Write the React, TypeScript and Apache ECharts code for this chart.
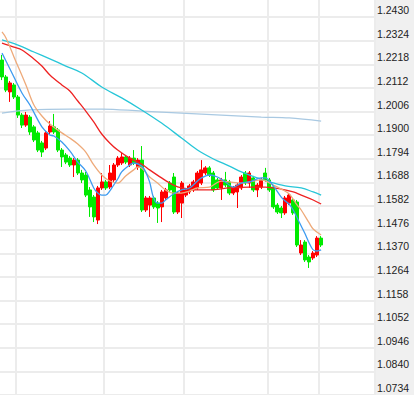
import { useEffect, useRef } from 'react';
import * as echarts from 'echarts';

// ---------- data ----------
const categoryCount = 94; // daily slots across the plot (data fills the first 81)
const categories: string[] = Array.from({ length: categoryCount }, (_, i) => String(i));
const monthSeparators = [4, 26, 46, 67, 80];

const yTickLabels = [
  '1.0734', '1.0840', '1.0946', '1.1052', '1.1158', '1.1264', '1.1370', '1.1476', '1.1582',
  '1.1688', '1.1794', '1.1900', '1.2006', '1.2112', '1.2218', '1.2324', '1.2430',
];
const priceMin = 1.0734;
const priceMax = 1.2430;

const opens = [
  1.2237, 1.2161, 1.2094, 1.2125, 1.2071, 1.1990, 1.1945, 1.1981, 1.1937, 1.1910,
  1.1865, 1.1842, 1.1914, 1.1937, 1.1923, 1.1833, 1.1811, 1.1797, 1.1766, 1.1788,
  1.1730, 1.1721, 1.1654, 1.1622, 1.1519, 1.1663, 1.1690, 1.1667, 1.1699, 1.1766,
  1.1775, 1.1802, 1.1766, 1.1797, 1.1757, 1.1788, 1.1564, 1.1586, 1.1618, 1.1595,
  1.1578, 1.1618, 1.1685, 1.1712, 1.1555, 1.1595, 1.1631, 1.1645, 1.1654, 1.1663,
  1.1685, 1.1730, 1.1753, 1.1730, 1.1699, 1.1663, 1.1699, 1.1690, 1.1640, 1.1645,
  1.1663, 1.1730, 1.1685, 1.1708, 1.1654, 1.1667, 1.1730, 1.1699, 1.1667, 1.1586,
  1.1573, 1.1551, 1.1595, 1.1609, 1.1600, 1.1371, 1.1420, 1.1353, 1.1349, 1.1362,
  1.1438,
];
const closes = [
  1.2161, 1.2102, 1.2134, 1.2071, 1.1990, 1.1945, 1.1990, 1.1914, 1.1878, 1.1833,
  1.1824, 1.1910, 1.1941, 1.1914, 1.1833, 1.1802, 1.1779, 1.1766, 1.1788, 1.1730,
  1.1699, 1.1631, 1.1578, 1.1533, 1.1663, 1.1690, 1.1663, 1.1730, 1.1766, 1.1797,
  1.1802, 1.1779, 1.1797, 1.1775, 1.1788, 1.1564, 1.1618, 1.1618, 1.1578, 1.1573,
  1.1645, 1.1654, 1.1654, 1.1555, 1.1640, 1.1685, 1.1654, 1.1672, 1.1690, 1.1730,
  1.1744, 1.1753, 1.1721, 1.1654, 1.1663, 1.1699, 1.1676, 1.1640, 1.1663, 1.1676,
  1.1712, 1.1685, 1.1730, 1.1654, 1.1676, 1.1699, 1.1699, 1.1654, 1.1578, 1.1555,
  1.1551, 1.1618, 1.1631, 1.1551, 1.1407, 1.1407, 1.1340, 1.1331, 1.1371, 1.1438,
  1.1407,
];
const lows = [
  1.2147, 1.2093, 1.2049, 1.2062, 1.1977, 1.1932, 1.1937, 1.1901, 1.1869, 1.1824,
  1.1802, 1.1833, 1.1905, 1.1905, 1.1824, 1.1757, 1.1770, 1.1757, 1.1712, 1.1721,
  1.1685, 1.1622, 1.1533, 1.1510, 1.1501, 1.1654, 1.1654, 1.1658, 1.1690, 1.1757,
  1.1766, 1.1770, 1.1757, 1.1766, 1.1744, 1.1555, 1.1555, 1.1533, 1.1569, 1.1506,
  1.1510, 1.1609, 1.1645, 1.1546, 1.1546, 1.1528, 1.1622, 1.1636, 1.1645, 1.1654,
  1.1676, 1.1721, 1.1712, 1.1645, 1.1654, 1.1609, 1.1667, 1.1631, 1.1631, 1.1573,
  1.1654, 1.1676, 1.1663, 1.1645, 1.1622, 1.1658, 1.1690, 1.1645, 1.1569, 1.1546,
  1.1528, 1.1542, 1.1586, 1.1542, 1.1398, 1.1362, 1.1331, 1.1304, 1.1340, 1.1353,
  1.1398,
];
const highs = [
  1.2260, 1.2170, 1.2143, 1.2134, 1.2080, 1.1999, 1.2004, 1.1990, 1.1945, 1.1919,
  1.1874, 1.1919, 1.1963, 1.1995, 1.1932, 1.1842, 1.1820, 1.1806, 1.1797, 1.1797,
  1.1744, 1.1735, 1.1667, 1.1631, 1.1672, 1.1730, 1.1699, 1.1766, 1.1775, 1.1806,
  1.1820, 1.1811, 1.1806, 1.1833, 1.1797, 1.1851, 1.1627, 1.1627, 1.1627, 1.1604,
  1.1654, 1.1663, 1.1694, 1.1730, 1.1649, 1.1694, 1.1663, 1.1681, 1.1699, 1.1739,
  1.1788, 1.1761, 1.1761, 1.1739, 1.1708, 1.1708, 1.1735, 1.1699, 1.1672, 1.1685,
  1.1721, 1.1739, 1.1739, 1.1717, 1.1685, 1.1708, 1.1753, 1.1708, 1.1676, 1.1595,
  1.1582, 1.1627, 1.1640, 1.1618, 1.1609, 1.1429, 1.1429, 1.1362, 1.1380, 1.1447,
  1.1447,
];

// moving-average lines as [day index, price]
const ma5: [number, number][] = [
  [0, 1.2268], [2, 1.2197], [5, 1.2089], [7, 1.2035], [10, 1.1937], [12, 1.1901], [13, 1.1896],
  [15, 1.1869], [17, 1.1829], [19, 1.1779], [21, 1.1739], [23, 1.1663], [24, 1.1640], [25, 1.1631],
  [26, 1.1631], [27, 1.1649], [28, 1.1676], [29, 1.1703], [30, 1.1735], [32, 1.1766], [33, 1.1775],
  [35, 1.1761], [36, 1.1735], [37, 1.1690], [38, 1.1618], [39, 1.1595], [40, 1.1595], [41, 1.1609],
  [43, 1.1636], [45, 1.1654], [47, 1.1663], [49, 1.1694], [50, 1.1708], [52, 1.1721], [54, 1.1712],
  [56, 1.1690], [58, 1.1667], [60, 1.1685], [62, 1.1690], [65, 1.1708], [66, 1.1708], [68, 1.1672],
  [70, 1.1622], [71, 1.1604], [72, 1.1590], [73, 1.1564], [74, 1.1528], [75, 1.1492], [76, 1.1456],
  [77, 1.1416], [78, 1.1385], [79, 1.1380], [80, 1.1385],
];
const ma10: [number, number][] = [
  [0, 1.2363], [1, 1.2336], [3, 1.2251], [6, 1.2125], [8, 1.2035], [10, 1.1986], [12, 1.1950],
  [15, 1.1910], [17, 1.1887], [19, 1.1860], [21, 1.1824], [23, 1.1766], [25, 1.1721], [27, 1.1694],
  [29, 1.1685], [31, 1.1717], [33, 1.1744], [34, 1.1757], [35, 1.1753], [37, 1.1712], [39, 1.1685],
  [41, 1.1654], [43, 1.1640], [45, 1.1640], [47, 1.1649], [49, 1.1663], [52, 1.1667], [55, 1.1694],
  [57, 1.1690], [60, 1.1685], [62, 1.1690], [65, 1.1699], [68, 1.1676], [70, 1.1658], [72, 1.1636],
  [74, 1.1586], [75, 1.1564], [77, 1.1506], [78, 1.1479], [80, 1.1452],
];
const ma20: [number, number][] = [
  [0, 1.2313], [3, 1.2295], [5, 1.2282], [8, 1.2242], [10, 1.2210], [12, 1.2170], [15, 1.2125],
  [17, 1.2098], [19, 1.2053], [21, 1.2008], [23, 1.1959], [25, 1.1905], [27, 1.1865], [29, 1.1833],
  [32, 1.1797], [35, 1.1770], [37, 1.1744], [40, 1.1708], [43, 1.1676], [45, 1.1663], [49, 1.1654],
  [52, 1.1654], [57, 1.1663], [62, 1.1667], [66, 1.1667], [70, 1.1658], [73, 1.1645], [75, 1.1631],
  [78, 1.1609], [80, 1.1591],
];
const ma60: [number, number][] = [
  [0, 1.2327], [4, 1.2304], [8, 1.2273], [12, 1.2242], [16, 1.2210], [20, 1.2179], [25, 1.2116],
  [30, 1.2067], [35, 1.2013], [40, 1.1954], [45, 1.1887], [49, 1.1833], [53, 1.1793], [57, 1.1761],
  [60, 1.1735], [64, 1.1708], [67, 1.1690], [71, 1.1672], [75, 1.1663], [78, 1.1645], [80, 1.1631],
];
const ma120: [number, number][] = [
  [0, 1.1999], [7, 1.2013], [17, 1.2017], [25, 1.2017], [35, 1.2008], [45, 1.1999], [55, 1.1990],
  [65, 1.1981], [72, 1.1977], [80, 1.1963],
];

const upColor = '#ff0000';
const downColor = '#00ea00';
const gridColor = '#ececec';

export default function App() {
  const ref = useRef<HTMLDivElement>(null);

  useEffect(() => {
    if (!ref.current) return;
    const chart = echarts.init(ref.current, undefined, { renderer: 'svg' });

    const candleData = opens.map((o, i) => [o, closes[i], lows[i], highs[i]]);

    const maLine = (data: [number, number][], color: string) => ({
      type: 'line',
      xAxisIndex: 1,
      yAxisIndex: 1,
      data,
      smooth: 0.35,
      connectNulls: true,
      showSymbol: false,
      symbol: 'none',
      lineStyle: { color, width: 1.3 },
      z: 3,
    });

    chart.setOption({
      animation: false,
      backgroundColor: 'transparent',
      grid: [
        { left: -2, right: 39, top: 0, bottom: 0 },
        { left: -2, right: 39, top: 17, bottom: 0 },
      ],
      xAxis: [
        {
          type: 'category',
          gridIndex: 0,
          data: categories,
          boundaryGap: true,
          axisLine: { show: false },
          axisTick: { show: false },
          axisLabel: { show: false },
          splitLine: {
            show: true,
            interval: (idx: number) => monthSeparators.includes(idx),
            lineStyle: { color: gridColor, width: 2 },
          },
        },
        {
          type: 'category',
          gridIndex: 1,
          data: categories,
          boundaryGap: true,
          show: false,
        },
      ],
      yAxis: [
        { type: 'value', gridIndex: 0, min: 0, max: 1, show: false },
        { type: 'value', gridIndex: 1, min: priceMin, max: priceMax, show: false, scale: true },
        {
          type: 'value',
          gridIndex: 1,
          min: 0,
          max: yTickLabels.length - 1,
          interval: 1,
          position: 'right',
          axisLine: { show: false },
          axisTick: { show: false },
          axisLabel: {
            show: true,
            inside: false,
            margin: 2,
            align: 'left',
            verticalAlign: 'bottom',
            lineHeight: 14,
            fontSize: 10.5,
            fontFamily: 'Liberation Sans, Arial, sans-serif',
            color: '#222',
            formatter: (v: number) => yTickLabels[Math.round(v)] ?? '',
          },
          splitLine: { show: true, lineStyle: { color: gridColor, width: 2 } },
        },
      ],
      series: [
        {
          type: 'candlestick',
          xAxisIndex: 1,
          yAxisIndex: 1,
          data: candleData,
          barWidth: 3.5,
          itemStyle: {
            color: upColor,
            color0: downColor,
            borderColor: upColor,
            borderColor0: downColor,
            borderWidth: 1,
          },
          z: 2,
        },
        maLine(ma120, '#a9c9e2'),
        maLine(ma60, '#27c6d8'),
        maLine(ma20, '#ee2222'),
        maLine(ma10, '#eeaa7a'),
        maLine(ma5, '#3d9bf0'),
      ],
    });

    return () => chart.dispose();
  }, []);

  return (
    <div
      ref={ref}
      style={{
        position: 'fixed',
        left: 0,
        top: 0,
        width: 414,
        height: 395,
        background: 'linear-gradient(to right, #ffffff 375px, #f0f0f0 375px)',
      }}
    />
  );
}
